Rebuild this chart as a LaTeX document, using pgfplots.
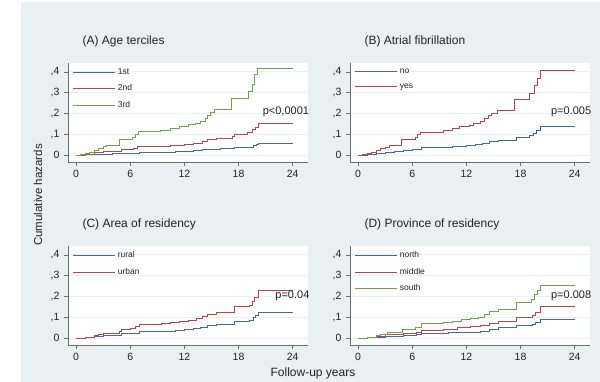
\documentclass[border=0pt]{standalone}
\usepackage{pgfplots}
\pgfplotsset{compat=1.18}
\usepackage{fontspec}
\setmainfont{Liberation Sans}
\definecolor{bgc}{RGB}{232,240,242}
\definecolor{gridc}{RGB}{232,240,242}
\definecolor{sblue}{RGB}{72,104,150}
\definecolor{sred}{RGB}{172,72,78}
\definecolor{sgreen}{RGB}{118,158,82}
\definecolor{axc}{RGB}{110,110,110}
\definecolor{txc}{RGB}{35,35,35}
\pgfplotsset{
  panel/.style={
    scale only axis, width=240pt, height=99pt,
    xmin=-0.9, xmax=25.7, ymin=-0.032, ymax=0.443,
    axis x line*=bottom, axis y line*=left,
    axis line style={axc, line width=0.8pt},
    axis background/.style={fill=white},
    xtick={0,6,12,18,24},
    ytick={0,0.1,0.2,0.3,0.4},
    yticklabels={0,{,1},{,2},{,3},{,4}},
    /pgf/number format/assume math mode=true,
    ymajorgrids, major grid style={gridc, line width=1pt},
    tick align=outside, major tick length=4pt,
    tick style={axc, line width=0.6pt},
    ticklabel style={font=\fontsize{10.5}{12}\selectfont, text=txc},
    yticklabel style={xshift=-1pt},
    xticklabel style={yshift=-1pt},
    title style={anchor=west, font=\fontsize{12}{14}\selectfont, text=txc, at={(rel axis cs:0.046,1.16)}},
    legend style={at={(rel axis cs:0.02,0.965)}, anchor=north west, draw=none, fill=none,
      font=\fontsize{8.5}{10}\selectfont, text=txc, inner sep=0pt, row sep=4.8pt,
      /tikz/every even column/.append style={column sep=9pt}},
    legend cell align=left,
    legend image code/.code={\draw[##1] (0pt,0pt) -- (42pt,0pt);},
    every axis plot/.append style={line width=0.85pt, const plot, mark=none},
  }
}
\begin{document}
\begin{tikzpicture}[x=1pt,y=1pt]
\useasboundingbox (0,0) rectangle (600,382);
\fill[white] (0,0) rectangle (600,382);
\fill[bgc] (21,0) rectangle (600,380);

% (A)
\begin{axis}[panel, at={(68pt,220pt)}, anchor=south west, title={(A) Age terciles}]
\addplot[sblue] coordinates {(0,0) (1,0.002) (2,0.004) (3,0.006) (4,0.008) (5,0.009) (6,0.011) (7,0.014) (9,0.016) (11,0.019) (12,0.021) (13,0.023) (14,0.026) (15,0.029) (16,0.031) (17.5,0.036) (19,0.04) (19.6,0.046) (20,0.052) (20.2,0.058) (24,0.058)};
\addplot[sred] coordinates {(0,0) (1,0.006) (2,0.012) (3,0.018) (4,0.021) (5,0.028) (6.3,0.032) (6.8,0.042) (9,0.045) (10.5,0.048) (12,0.053) (13,0.058) (14,0.065) (14.6,0.075) (15.5,0.08) (17.3,0.09) (17.5,0.101) (19,0.108) (19.5,0.125) (19.9,0.135) (20.2,0.155) (24,0.155)};
\addplot[sgreen] coordinates {(0,0) (0.5,0.004) (1,0.01) (1.5,0.016) (2,0.025) (2.5,0.034) (3,0.042) (3.4,0.048) (4.8,0.074) (5.5,0.078) (6.2,0.084) (6.6,0.1) (6.9,0.114) (9.3,0.12) (10.5,0.128) (11.5,0.138) (12.5,0.146) (13.2,0.155) (13.8,0.165) (14.3,0.178) (14.6,0.19) (14.9,0.205) (15.3,0.221) (17.2,0.272) (19.1,0.306) (19.5,0.338) (19.8,0.386) (20.1,0.415) (24,0.415)};
\legend{1st,2nd,3rd}
\node[anchor=west, font=\fontsize{11}{13}\selectfont, text=txc] at (axis cs:20.3,0.208) {p<0,0001};
\end{axis}

% (B)
\begin{axis}[panel, at={(350pt,220pt)}, anchor=south west, title={(B) Atrial fibrillation}]
\addplot[sblue] coordinates {(0,0) (1,0.004) (2,0.009) (3,0.014) (4,0.017) (5,0.024) (6,0.027) (7,0.036) (9,0.039) (10.5,0.043) (12,0.047) (13,0.051) (13.8,0.057) (14.5,0.066) (15.5,0.072) (17.5,0.088) (19,0.095) (19.4,0.105) (19.8,0.118) (20.2,0.138) (24,0.138)};
\addplot[sred] coordinates {(0,0) (0.5,0.004) (1,0.01) (1.5,0.015) (2,0.022) (2.5,0.032) (3,0.04) (3.5,0.048) (4.8,0.074) (5.5,0.078) (6.3,0.085) (6.6,0.1) (6.9,0.112) (9.5,0.12) (10.5,0.128) (11.2,0.138) (12.3,0.145) (12.8,0.152) (13.5,0.162) (14,0.175) (14.4,0.19) (14.8,0.2) (15.4,0.216) (17.3,0.266) (19.0,0.298) (19.5,0.333) (19.9,0.37) (20.2,0.406) (24,0.406)};
\legend{no,yes}
\node[anchor=west, font=\fontsize{11}{13}\selectfont, text=txc] at (axis cs:21.0,0.208) {p=0.005};
\end{axis}

% (C)
\begin{axis}[panel, at={(68pt,37pt)}, anchor=south west, title={(C) Area of residency}]
\addplot[sblue] coordinates {(0,0) (1,0.004) (2,0.009) (3,0.014) (4.8,0.016) (5,0.022) (6.3,0.025) (7,0.032) (9.5,0.034) (11,0.038) (12,0.042) (13,0.046) (13.8,0.052) (14.5,0.06) (15.5,0.066) (17.5,0.08) (19.2,0.088) (19.6,0.098) (19.9,0.108) (20.2,0.123) (24,0.123)};
\addplot[sred] coordinates {(0,0) (1,0.005) (2,0.012) (2.5,0.02) (3,0.025) (4.8,0.031) (5,0.041) (6,0.046) (6.6,0.056) (7,0.066) (9.5,0.07) (10.5,0.075) (11.5,0.082) (12.5,0.087) (13.3,0.095) (14,0.103) (14.5,0.115) (15.5,0.125) (17.5,0.152) (19.2,0.16) (19.5,0.175) (19.8,0.195) (20.2,0.232) (24,0.232)};
\legend{rural,urban}
\node[anchor=west, font=\fontsize{11}{13}\selectfont, text=txc] at (axis cs:21.7,0.202) {p=0.04};
\end{axis}

% (D)
\begin{axis}[panel, at={(350pt,37pt)}, anchor=south west, title={(D) Province of residency}]
\addplot[sblue] coordinates {(0,0) (1,0.003) (2,0.006) (3,0.01) (5,0.015) (6.5,0.018) (7,0.025) (10,0.027) (12,0.03) (13.5,0.035) (14.5,0.044) (15.5,0.05) (17.5,0.06) (19.3,0.065) (19.6,0.075) (20.2,0.089) (24,0.089)};
\addplot[sred] coordinates {(0,0) (1,0.004) (2,0.01) (3,0.018) (5,0.025) (6.5,0.03) (7,0.04) (9.5,0.044) (11,0.05) (12.5,0.055) (13.5,0.062) (14.5,0.07) (15.5,0.08) (17.5,0.1) (19.3,0.11) (19.6,0.125) (20.2,0.152) (24,0.152)};
\addplot[sgreen] coordinates {(0,0) (1,0.005) (2,0.013) (2.5,0.02) (3.2,0.03) (4.9,0.045) (6.3,0.052) (7,0.07) (9.5,0.075) (10.5,0.082) (11.5,0.09) (12.5,0.095) (13.3,0.102) (14,0.113) (14.5,0.128) (15.5,0.14) (17.5,0.17) (19.2,0.185) (19.5,0.21) (19.9,0.23) (20.2,0.256) (24,0.256)};
\legend{north,middle,south}
\node[anchor=west, font=\fontsize{11}{13}\selectfont, text=txc] at (axis cs:21.0,0.202) {p=0.008};
\end{axis}

\node[rotate=90, font=\fontsize{11.5}{13}\selectfont, text=txc] at (38,187) {Cumulative hazards};
\node[font=\fontsize{12}{14}\selectfont, text=txc] at (313,9) {Follow-up years};
\end{tikzpicture}
\end{document}
